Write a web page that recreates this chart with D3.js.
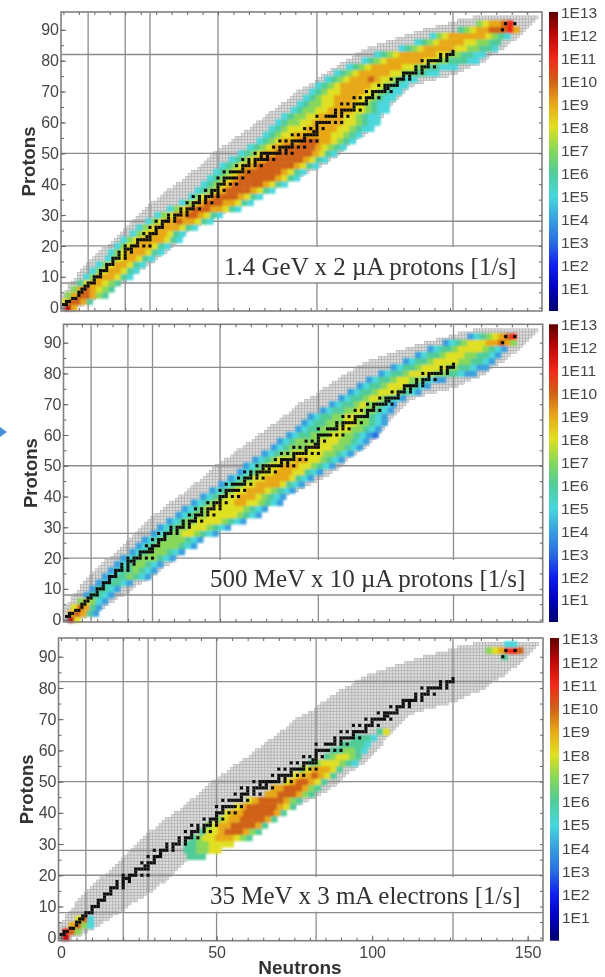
<!DOCTYPE html>
<html>
<head>
<meta charset="utf-8">
<script src="https://cdn.jsdelivr.net/npm/d3@7"></script>
<style>
  html, body { margin: 0; padding: 0; background: #fff; }
  svg { display: block; }
</style>
</head>
<body>
<div class="container"></div>
<script>
// magic numbers drawn as guide lines
const magicNumbers = [8, 20, 28, 50, 82, 126];
const xTickLabels = [0, 50, 100, 150];
const yTickLabels = [0, 10, 20, 30, 40, 50, 60, 70, 80, 90];
const colorbarLabels = [13, 12, 11, 10, 9, 8, 7, 6, 5, 4, 3, 2, 1];

// rate decade -> colour
const levelDomain = [0, 1, 2, 3, 4, 5, 6, 7, 8, 9, 10, 11, 12, 13];
const levelColors = ["#000070", "#0000c0", "#1020f0", "#2a6ee0", "#38a0e0", "#48d8dc", "#50cc98", "#88d858", "#e0e020", "#e8a818", "#d06018", "#f02818", "#c00808", "#600000"];

// grey region: lowest and highest N for Z = 0..94
const greyLow = [0,0,0,0,0,1,2,2,3,4,5,5,6,7,8,9,10,11,12,13,15,16,17,18,19,20,21,22,23,24,25,26,27,28,29,31,32,33,34,36,37,39,40,41,42,44,45,46,47,48,49,51,52,54,55,56,58,59,61,62,63,65,66,67,69,70,71,73,74,75,76,78,80,82,83,84,86,87,89,90,92,94,95,97,99,102,105,108,111,114,117,121,125,128,133];
const greyHigh = [3,6,8,10,12,13,15,16,18,20,21,22,24,26,27,29,30,31,33,34,35,36,37,38,39,40,42,44,46,48,50,52,54,56,58,60,62,64,66,68,70,72,75,77,79,81,83,85,86,88,89,90,91,92,94,95,97,98,99,100,101,102,103,103,104,105,106,107,108,109,110,111,113,116,120,124,127,129,131,134,136,137,138,140,142,143,144,146,147,148,149,150,151,152,153];

// stable nuclides, one N list per Z
const stableZ = [1,2,3,4,5,6,7,8,9,10,11,12,13,14,15,16,17,18,19,20,21,22,23,24,25,26,27,28,29,30,31,32,33,34,35,36,37,38,39,40,41,42,44,45,46,47,48,49,50,51,52,53,54,55,56,57,58,59,60,62,63,64,65,66,67,68,69,70,71,72,73,74,75,76,77,78,79,80,81,82,83,90,92];
const stableN = [[0,1],[1,2],[3,4],[5],[5,6],[6,7],[7,8],[8,9,10],[10],[10,11,12],[12],[12,13,14],[14],[14,15,16],[16],[16,17,18,20],[18,20],[18,20,22],[20,21,22],[20,22,23,24,26,28],[24],[24,25,26,27,28],[27,28],[26,28,29,30],[30],[28,30,31,32],[32],[30,32,33,34,36],[34,36],[34,36,37,38,40],[38,40],[38,40,41,42,44],[42],[40,42,43,44,46,48],[44,46],[42,44,46,47,48,50],[48,50],[46,48,49,50,52],[50],[50,51,52,54,56],[52],[50,52,53,54,55,56,58],[52,54,55,56,57,58,60],[58],[56,58,59,60,62,64],[60,62],[58,60,62,63,64,65,66,68],[64,66],[62,64,65,66,67,68,69,70,72,74],[70,72],[68,70,71,72,73,74,76,78],[74],[70,72,74,75,76,77,78,80,82],[78],[74,76,78,79,80,81,82],[81,82],[78,80,82,84],[82],[82,83,84,85,86,88,90],[82,85,86,87,88,90,92],[88,90],[88,90,91,92,93,94,96],[94],[90,92,94,95,96,97,98],[98],[94,96,98,99,100,102],[100],[98,100,101,102,103,104,106],[104,105],[102,104,105,106,107,108],[108],[106,108,109,110,112],[110,112],[110,111,112,113,114,116],[114,116],[114,116,117,118,120],[118],[116,118,119,120,121,122,124],[122,124],[122,124,125,126],[126],[142],[143,146]];

// heat rows: Z of the row, first N, then one hex digit (rate decade) per 2 neutrons
const heat1Z = [0,2,4,6,8,10,12,14,16,18,20,22,24,26,28,30,32,34,36,38,40,42,44,46,48,50,52,54,56,58,60,62,64,66,68,70,72,74,76,78,80,82,84,86,88,90,92];
const heat1Start = [1,0,1,3,5,7,9,11,14,15,17,19,22,24,27,30,34,38,41,43,45,47,49,51,54,57,60,63,65,67,69,71,74,76,78,80,82,85,88,92,97,101,109,114,119,128,134];
const heat1Levels = ["C9","8AA96","79AA976","79A9876","6899876","57999865","57899865","57899865","57899865","578999865","578999865","5789999865","578999865","5789999865","57899A99865","57899AA9865","5789AAA99865","5789AAA99865","5789AAAA9865","56789AAAA9865","56789AAAAA9865","56789AAAAAA9865","56789AAAAAA9865","567899AAAAAA9865","567899AAAAAA9865","567899AAAAAA9865","567899AAAAA98765","5678999AAA998765","5678899999988765","56788899999887655","56778899999887655","5677889999887655","5677889999887655","567788999887655","567889999887655","567889999887655","567899999887655","5678999A9887655","56789999988776655","567899999887766555","5678999999887766655","567899999988776655","5678999998877665","56789999887766","5789999998765","67899AAAB9","7899AB"];

const heat2Z = [0,2,4,6,8,10,12,14,16,18,20,22,24,26,28,30,32,34,36,38,40,42,44,46,48,50,52,54,56,58,60,62,64,66,68,70,72,74,76,78,80,82,84,86,88,90,92];
const heat2Start = [1,1,2,4,6,8,10,12,14,16,18,21,23,25,28,30,33,36,38,41,44,47,50,53,56,58,61,64,67,69,72,75,77,79,83,86,89,92,95,98,102,106,110,114,118,123,131];
const heat2Levels = ["C8","9A964","8A964","78754","46654","46654","456654","45667654","45667654","45677654","456777654","456777654","4567777654","4567777654","45677887654","456778887654","4567788887654","45677888887654","45678888887654","456788899887654","45678899987654","45678899987654","45678899998654","45678899998654","45678899988654","456788999887654","456788899887654","456778888877654","456777888877654","456777788877654","456677788776543","45667778877654","45667778877654","4566778877654","456677877654","45667877654","45667887654","456678887654","456678887654","4566788776544","4566788887766544","4566788887766544","456678888776654","45667888776654","4566788887654","456788899A97","456789AB"];

const heat3Z = [0,2,4,6,26,28,30,32,34,36,38,40,42,44,46,48,50,52,54,56,58,60,62,64,66,90,92,94];
const heat3Start = [1,1,3,5,41,40,40,42,45,47,50,53,56,60,66,68,72,75,77,80,85,87,90,94,102,142,137,143];
const heat3Levels = ["C","BA7","9A75","8A5","666","667788","66778888","6788999876","6889AAA976","7899AAAA96","7899AAAA96","899AAAAA96","89AAAAA986","89AAAA976","99AAA976","99AAA976","89AA986","899A986","7899986","67888765","678876","667765","66665","6665","68","6","789BBA","55"];

const panels = [
  { name: "1.4 GeV x 2 \u00b5A protons [1/s]", xr: [63.4, 453], yr: [307.7, 54.5], left: 61, right: 542, top: 12, bottom: 311, bar: [549, 558], barLabel1: 289, barLabel13: 13, box: [219, 247, 321, 35], textX: 224, textY: 275, protonX: 35, heat: [heat1Z, heat1Start, heat1Levels] },
  { name: "500 MeV x 10 \u00b5A protons [1/s]", xr: [66.5, 453.5], yr: [619.6, 367.3], left: 63.5, right: 542.7, top: 324.3, bottom: 622, bar: [549, 558], barLabel1: 600, barLabel13: 325, box: [205, 560, 333, 34], textX: 210, textY: 587, protonX: 37, heat: [heat2Z, heat2Start, heat2Levels] },
  { name: "35 MeV x 3 mA electrons [1/s]", xr: [61, 453], yr: [937.7, 681.7], left: 58.5, right: 543, top: 638, bottom: 940.7, bar: [550, 559], barLabel1: 918, barLabel13: 639, box: [205, 877, 333, 34.7], textX: 210, textY: 904, protonX: 33, heat: [heat3Z, heat3Start, heat3Levels] }
];

const color = d3.scaleLinear().domain(levelDomain).range(levelColors);

const svg = d3.select(".container").append("svg").attr("width", 605).attr("height", 977);
const defs = svg.append("defs");
defs.append("filter").attr("id", "soft").attr("x", "-5%").attr("y", "-5%").attr("width", "110%").attr("height", "110%")
  .append("feGaussianBlur").attr("stdDeviation", 1.3);
defs.append("filter").attr("id", "softer").attr("x", "-5%").attr("y", "-5%").attr("width", "110%").attr("height", "110%")
  .append("feGaussianBlur").attr("stdDeviation", 0.4);

const grad = defs.append("linearGradient").attr("id", "bar").attr("x1", 0).attr("x2", 0).attr("y1", 1).attr("y2", 0);
grad.selectAll("stop").data(levelDomain).enter().append("stop")
  .attr("offset", (d) => d / 13)
  .attr("stop-color", (d) => color(d));

let greyCells = [];
greyLow.forEach((lo, z) => {
  d3.range(lo, greyHigh[z] + 1).forEach((n) => greyCells.push({ n: n, z: z }));
});

let stableCells = [];
stableZ.forEach((z, i) => {
  stableN[i].forEach((n) => stableCells.push({ n: n, z: z }));
});

const labelFont = "'Liberation Sans', Arial, sans-serif";

let drawPanel = (p, index) => {
  const x = d3.scaleLinear().domain([0, 126]).range(p.xr);
  const y = d3.scaleLinear().domain([0, 82]).range(p.yr);
  const g = svg.append("g");
  const cellW = x(1) - x(0);
  const cellH = y(0) - y(1);

  // grey map of known nuclides
  g.append("g").attr("filter", "url(#softer)")
    .selectAll("rect").data(greyCells).enter().append("rect")
    .attr("x", (d) => x(d.n - 0.5))
    .attr("y", (d) => y(d.z + 0.5))
    .attr("width", cellW)
    .attr("height", cellH)
    .attr("fill", "#dcdcdc")
    .attr("stroke", "#a8a8a8")
    .attr("stroke-width", 0.5);

  // magic number lines
  const lines = g.append("g").attr("stroke", "#8c8c8c").attr("stroke-width", 1.3).attr("filter", "url(#softer)");
  lines.selectAll(".v").data(magicNumbers).enter().append("line").attr("class", "v")
    .attr("x1", (d) => x(d)).attr("x2", (d) => x(d)).attr("y1", p.top).attr("y2", p.bottom);
  lines.selectAll(".h").data(magicNumbers.slice(0, 5)).enter().append("line").attr("class", "h")
    .attr("x1", p.left).attr("x2", p.right).attr("y1", (d) => y(d)).attr("y2", (d) => y(d));

  // white box behind the label
  g.append("rect").attr("x", p.box[0]).attr("y", p.box[1]).attr("width", p.box[2]).attr("height", p.box[3]).attr("fill", "#fff");

  // heat cells, two neutrons wide and two protons high
  let heatCells = [];
  p.heat[0].forEach((z, i) => {
    p.heat[2][i].split("").forEach((ch, k) => {
      heatCells.push({ n: p.heat[1][i] + 2 * k, z: z, v: parseInt(ch, 16) });
    });
  });
  g.append("g").attr("filter", "url(#soft)")
    .selectAll("rect").data(heatCells).enter().append("rect")
    .attr("x", (d) => x(d.n - 0.5))
    .attr("y", (d) => y(d.z + 1))
    .attr("width", cellW * 2 + 0.3)
    .attr("height", cellH * 2 + 0.3)
    .attr("fill", (d) => color(d.v));

  // stable nuclides
  g.append("g").attr("filter", "url(#softer)")
    .selectAll("rect").data(stableCells).enter().append("rect")
    .attr("x", (d) => x(d.n - 0.5))
    .attr("y", (d) => y(d.z + 0.5))
    .attr("width", cellW)
    .attr("height", cellH)
    .attr("fill", "#111");

  // frame
  g.append("rect").attr("x", p.left).attr("y", p.top).attr("width", p.right - p.left).attr("height", p.bottom - p.top)
    .attr("fill", "none").attr("stroke", "#808080").attr("stroke-width", 1.6);

  const minorX = d3.range(0, 155, 5);
  const minorY = d3.range(0, 95, 5);
  const tickGroup = g.append("g").attr("filter", "url(#softer)");
  const axisOf = (axis, at, values, size) => {
    const a = tickGroup.append("g").attr("transform", at)
      .call(axis.tickValues(values).tickSize(size).tickFormat(""));
    a.select(".domain").remove();
    a.selectAll("line").attr("stroke", "#666").attr("stroke-width", 1);
    return a;
  };
  axisOf(d3.axisBottom(x), `translate(0,${p.bottom})`, minorX, -3);
  axisOf(d3.axisTop(x), `translate(0,${p.top})`, minorX, -3);
  axisOf(d3.axisLeft(y), `translate(${p.left},0)`, minorY, -3);
  axisOf(d3.axisRight(y), `translate(${p.right},0)`, minorY, -3);

  const textGroup = g.append("g").attr("filter", "url(#softer)");

  // y tick labels
  const yAxis = textGroup.append("g").attr("transform", `translate(${p.left},0)`)
    .call(d3.axisLeft(y).tickValues(yTickLabels).tickSizeInner(-5).tickSizeOuter(0).tickPadding(2));
  yAxis.select(".domain").remove();
  yAxis.selectAll("line").attr("stroke", "#666");
  yAxis.selectAll("text").attr("font-family", labelFont).attr("font-size", 16).attr("fill", "#444");

  textGroup.append("text").attr("transform", `translate(${p.protonX},${(p.top + p.bottom) / 2}) rotate(-90)`)
    .attr("text-anchor", "middle").attr("font-family", labelFont).attr("font-weight", "bold")
    .attr("font-size", 18.5).attr("fill", "#333").text("Protons");

  // label
  textGroup.append("text").attr("x", p.textX).attr("y", p.textY)
    .attr("font-family", "'Liberation Serif', 'Times New Roman', serif")
    .attr("font-size", 25).attr("fill", "#333").text(p.name);

  // colour bar
  g.append("rect").attr("x", p.bar[0]).attr("y", p.top).attr("width", p.bar[1] - p.bar[0]).attr("height", p.bottom - p.top)
    .attr("fill", "url(#bar)");
  const barScale = d3.scaleLinear().domain([1, 13]).range([p.barLabel1, p.barLabel13]);
  const barAxis = textGroup.append("g").attr("transform", `translate(${p.bar[1]},0)`)
    .call(d3.axisRight(barScale).tickValues(colorbarLabels).tickSize(0).tickPadding(3).tickFormat((d) => "1E" + d));
  barAxis.select(".domain").remove();
  barAxis.selectAll("text").attr("font-family", labelFont).attr("font-size", 15.5).attr("fill", "#444");

  // x labels only on the bottom panel
  if (index == 2) {
    const xAxis = textGroup.append("g").attr("transform", `translate(0,${p.bottom})`)
      .call(d3.axisBottom(x).tickValues(xTickLabels).tickSizeInner(-5).tickSizeOuter(0).tickPadding(6));
    xAxis.select(".domain").remove();
    xAxis.selectAll("line").attr("stroke", "#666");
    xAxis.selectAll("text").attr("font-family", labelFont).attr("font-size", 16).attr("fill", "#444");
    textGroup.append("text").attr("x", 300).attr("y", 974).attr("text-anchor", "middle")
      .attr("font-family", labelFont).attr("font-weight", "bold").attr("font-size", 19).attr("fill", "#333").text("Neutrons");
  }
};

panels.forEach(drawPanel);

// bit of blue arrow cut off at the left edge
svg.append("path").attr("d", d3.line()([[0, 427], [7, 432], [0, 437]])).attr("fill", "#4a90d9");
</script>
</body>
</html>
